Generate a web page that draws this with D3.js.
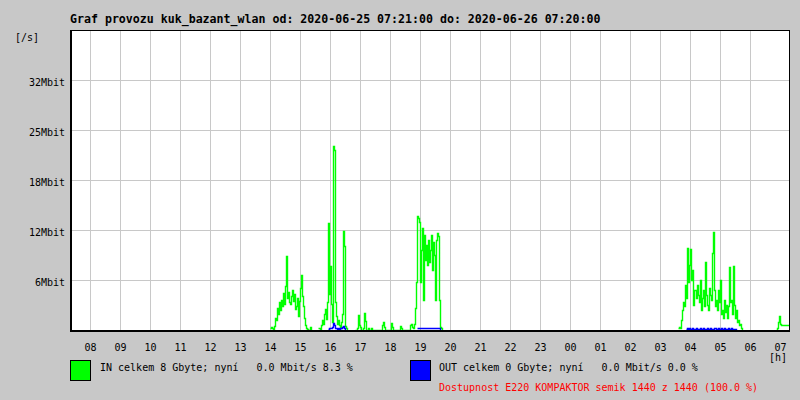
<!DOCTYPE html>
<html>
<head>
<meta charset="utf-8">
<script src="https://cdn.jsdelivr.net/npm/d3@7"></script>
<style>
  body { margin: 0; background: #c8c8c8; }
  svg { display: block; }
  text { font-family: "DejaVu Sans Mono", "Liberation Mono", monospace; white-space: pre; }
</style>
</head>
<body>
<svg id="chart" width="800" height="400"></svg>
<script>
// chart data (Mbit/s), one sample = 2 minutes
var title = "Graf provozu kuk_bazant_wlan od: 2020-06-25 07:21:00 do: 2020-06-26 07:20:00";
var hourLabels = ["08","09","10","11","12","13","14","15","16","17","18","19","20","21","22","23","00","01","02","03","04","05","06","07"];
var yTicks = [6.25, 12.5, 18.75, 25, 31.25];
var yTickLabels = ["6Mbit", "12Mbit", "18Mbit", "25Mbit", "32Mbit"];

var inStarts = ["2020-06-25 14:01", "2020-06-25 15:37", "2020-06-25 16:51", "2020-06-26 03:37", "2020-06-26 06:53"];
var inA = [0.3, 0.4, 0.2, 0, 0.5, 1.5, 1.2, 2.8, 2.0, 3.5,
           2.5, 3.8, 3.0, 4.6, 3.2, 5.5, 9.2, 4.0, 4.8, 3.5,
           3.2, 4.2, 5.0, 3.6, 4.5, 2.6, 3.0, 4.0, 1.8, 3.6,
           5.2, 6.9, 4.2, 3.0, 1.5, 0.6, 0.3, 0.1, 0, 0, 0.4, 0];
var inB = [0.2, 0.3, 0, 0.6, 1.2, 0.8, 2.0, 2.6, 1.4, 3.5,
           13.4, 4.5, 8.0, 3.2, 1.0, 23.0, 22.5, 3.5, 1.8, 0.8,
           1.2, 0.6, 0.3, 1.0, 2.0, 12.4, 10.5, 0.5, 0.2, 0];
var inC = [0, 0, 0.3, 1.9, 0.6, 0.4, 0, 0, 0.2, 2.1,
           1.1, 0, 0, 0.2, 0, 0, 0.2, 0, 0, 0,
           0, 0, 0, 0, 0, 0, 0, 0.6, 1.0, 0.4,
           0, 0, 0, 0, 0, 0, 0.9, 0.4, 0, 0,
           0, 0, 0, 0, 0, 0.5, 0.2, 0, 0, 0,
           0, 0, 0, 0, 0, 0.6, 0.8, 0.4, 0.3, 0.8,
           2.8, 6.0, 14.2, 14.0, 13.5, 6.0, 10.0, 12.7, 3.8, 11.9,
           8.8, 10.6, 8.1, 11.2, 8.5, 10.0, 11.9, 7.5, 11.0, 9.4,
           3.8, 11.2, 12.1, 11.8, 3.8, 0.4, 0.2, 0];
var inD = [0.2, 0.4, 0.3, 1.2, 2.5, 3.5, 3.0, 5.6, 4.0, 10.2,
           6.0, 8.1, 10.1, 6.2, 7.5, 3.1, 5.0, 5.0, 4.0, 5.6,
           4.4, 3.5, 6.2, 2.5, 4.0, 5.0, 3.0, 8.5, 4.4, 3.1,
           2.5, 5.2, 4.4, 3.8, 9.6, 12.2, 5.0, 3.0, 3.8, 2.5,
           5.0, 3.5, 6.2, 2.0, 2.5, 1.5, 3.8, 2.2, 3.1, 1.5,
           3.0, 7.9, 3.5, 3.8, 2.0, 8.0, 3.1, 1.5, 2.5, 1.0,
           1.2, 0.6, 0.8, 0.3, 0];
var inE = [0, 0.3, 1.0, 1.8, 0.8, 0.6, 0.6, 0.6, 0.6, 0.6, 0.6, 0.6, 0.6, 0.6];

var outStarts = ["2020-06-25 15:57", "2020-06-25 18:55", "2020-06-26 03:53"];
var outA = [0.1, 0.2, 0.3, 0.2, 0.4, 0.9, 0.6, 0.3, 0.2, 0.1, 0.2, 0.1, 0.3, 0.2, 0.4, 0.5, 0.2, 0];
var outB = [0.3, 0.3, 0.3, 0.2, 0.3, 0.3, 0.3, 0.2, 0.3, 0.3, 0.3, 0.2,
            0.3, 0.3, 0.2, 0.3, 0.3, 0.3, 0.2, 0.3, 0.3, 0.3, 0.3, 0];
var outC = [0.1, 0.2, 0, 0.2, 0.1, 0, 0.2, 0.1, 0.1, 0, 0.2, 0.1, 0, 0.1, 0.2, 0, 0.1,
            0.2, 0.1, 0, 0.1, 0.2, 0.1, 0, 0.2, 0.1, 0, 0.1, 0.2, 0.2, 0, 0.1, 0.2, 0,
            0.1, 0.2, 0.1, 0, 0.2, 0.1, 0.1, 0, 0.2, 0.1, 0, 0.2, 0.1, 0, 0.1, 0.1, 0];

var inSeries = [inA, inB, inC, inD, inE];
var outSeries = [outA, outB, outC];

var legendIn = "IN celkem 8 Gbyte; nyní   0.0 Mbit/s 8.3 %";
var legendOut = "OUT celkem 0 Gbyte; nyní   0.0 Mbit/s 0.0 %";
var legendAvail = "Dostupnost E220 KOMPAKTOR semik 1440 z 1440 (100.0 %)";

var margin = {top: 30, left: 70, right: 10, bottom: 70}
  , width = 720
  , height = 300;

var parse = d3.timeParse("%Y-%m-%d %H:%M");
var t0 = parse("2020-06-25 07:21");
var t1 = parse("2020-06-26 07:21");

var xScale = d3.scaleTime().domain([t0, t1]).range([margin.left, margin.left + width]);
var yScale = d3.scaleLinear().domain([0, 37.5]).range([margin.top + height, margin.top]);

var svg = d3.select("#chart");

svg.append("rect").attr("width", 800).attr("height", 400).attr("fill", "#c8c8c8");

// title
svg.append("text")
    .attr("x", 70).attr("y", 23)
    .attr("font-size", "11.6px").attr("font-weight", "bold")
    .text(title);

svg.append("text")
    .attr("x", 15).attr("y", 41)
    .attr("font-size", "10px")
    .text("[/s]");

// plot area
svg.append("rect")
    .attr("x", margin.left).attr("y", margin.top)
    .attr("width", width).attr("height", height)
    .attr("fill", "#fff");

// hour ticks
var hours = d3.timeHour.range(d3.timeHour.ceil(t0), t1);
svg.append("g").selectAll("line")
    .data(hours.slice(0, hours.length - 1))
    .enter().append("line")
    .attr("x1", d => Math.round(xScale(d)) + 0.5)
    .attr("x2", d => Math.round(xScale(d)) + 0.5)
    .attr("y1", margin.top).attr("y2", margin.top + height)
    .attr("stroke", "#c8c8c8");

svg.append("g").selectAll("text")
    .data(hours)
    .enter().append("text")
    .attr("x", d => xScale(d) + 1)
    .attr("y", 351)
    .attr("text-anchor", "middle")
    .attr("font-size", "10px")
    .text((d, i) => hourLabels[i]);

svg.append("text")
    .attr("x", 778).attr("y", 361)
    .attr("text-anchor", "middle")
    .attr("font-size", "10px")
    .text("[h]");

// y grid
svg.append("g").selectAll("line")
    .data(yTicks)
    .enter().append("line")
    .attr("x1", (d, i) => i == 0 ? margin.left : margin.left - 5)
    .attr("x2", margin.left + width)
    .attr("y1", d => Math.round(yScale(d)) + 0.5)
    .attr("y2", d => Math.round(yScale(d)) + 0.5)
    .attr("stroke", "#c8c8c8");

svg.append("g").selectAll("text")
    .data(yTicks)
    .enter().append("text")
    .attr("x", 65)
    .attr("y", d => yScale(d) + 6)
    .attr("text-anchor", "end")
    .attr("font-size", "10px")
    .text((d, i) => yTickLabels[i]);

// traffic lines
function toPoints(values, start) {
    var s = parse(start);
    return values.map((v, i) => [d3.timeMinute.offset(s, i * 2), v]);
}

var line = d3.line()
    .x(d => Math.round(xScale(d[0])) + 0.5)
    .y(d => Math.round(yScale(d[1])) + 0.5)
    .curve(d3.curveStepAfter);

svg.append("g").selectAll("path")
    .data(inSeries.map((s, i) => toPoints(s, inStarts[i])))
    .enter().append("path")
    .attr("d", line)
    .attr("fill", "none")
    .attr("stroke", "#00ff00")
    .attr("stroke-width", 1.4);

svg.append("g").selectAll("path")
    .data(outSeries.map((s, i) => toPoints(s, outStarts[i])))
    .enter().append("path")
    .attr("d", line)
    .attr("fill", "none")
    .attr("stroke", "#0000ff")
    .attr("stroke-width", 1.4);

// frame
svg.append("rect")
    .attr("x", margin.left + 0.5).attr("y", margin.top + 0.5)
    .attr("width", width - 1).attr("height", height)
    .attr("fill", "none").attr("stroke", "#000");
svg.append("line")
    .attr("x1", margin.left).attr("x2", margin.left + width)
    .attr("y1", margin.top + height + 1).attr("y2", margin.top + height + 1)
    .attr("stroke", "#000").attr("stroke-width", 2);
svg.append("line")
    .attr("x1", margin.left + 1).attr("x2", margin.left + 1)
    .attr("y1", margin.top).attr("y2", margin.top + height)
    .attr("stroke", "#000").attr("stroke-width", 2);

// legend
var legend = [
    {color: "#00ff00", x: 70, text: legendIn},
    {color: "#0000ff", x: 410, text: legendOut}
];
svg.append("g").selectAll("rect")
    .data(legend)
    .enter().append("rect")
    .attr("x", d => d.x + 0.5).attr("y", 360.5)
    .attr("width", 20).attr("height", 20)
    .attr("fill", d => d.color)
    .attr("stroke", "#000");

svg.append("g").selectAll("text")
    .data(legend)
    .enter().append("text")
    .attr("x", d => d.x + 30 - (d.x == 410 ? 1 : 0))
    .attr("y", 371)
    .attr("font-size", "10px")
    .text(d => d.text);

svg.append("text")
    .attr("x", 439).attr("y", 391)
    .attr("font-size", "10px")
    .attr("fill", "#ff0000")
    .text(legendAvail);
</script>
</body>
</html>
